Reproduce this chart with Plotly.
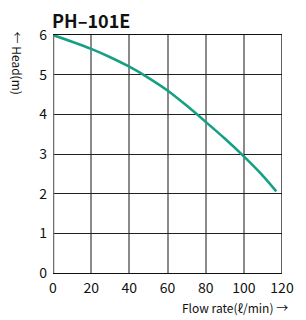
import plotly.graph_objects as go

flow = [0, 10, 20, 30, 40, 50, 60, 70, 80, 90, 100, 110, 117]
head = [6.0, 5.83, 5.65, 5.44, 5.2, 4.92, 4.6, 4.22, 3.81, 3.39, 2.94, 2.45, 2.06]
x_ticks = [0, 20, 40, 60, 80, 100, 120]
y_ticks = [0, 1, 2, 3, 4, 5, 6]

FONT = "Noto Sans CJK KR"

fig = go.Figure()
fig.add_trace(go.Scatter(x=flow, y=head, mode="lines",
                         line=dict(color="#16a083", width=2.6, shape="spline", smoothing=0.8),
                         hoverinfo="skip", showlegend=False))

# page body has an 8px margin, so the figure is sized to fit in 306x320
fig.update_layout(
    width=298, height=312,
    margin=dict(l=45, r=13, t=27, b=47),
    paper_bgcolor="white", plot_bgcolor="white",
    font=dict(family=FONT, color="#111111"),
    xaxis=dict(range=[0, 120], tickvals=x_ticks, showgrid=True,
               gridcolor="#8a8a8a", gridwidth=2, zeroline=False,
               showline=True, linecolor="#111111", linewidth=1.3, mirror=True,
               ticks="", ticklabelstandoff=2,
               tickfont=dict(size=14, family=FONT), fixedrange=True),
    yaxis=dict(range=[0, 6], tickvals=y_ticks, showgrid=True,
               gridcolor="#222222", gridwidth=1.3, zeroline=False,
               showline=False, ticks="", ticklabelstandoff=5,
               tickfont=dict(size=14, family=FONT), fixedrange=True),
    shapes=[
        dict(type="line", xref="x", yref="y", x0=0, x1=0, y0=0, y1=6,
             line=dict(color="#6e6e6e", width=2.5)),
        dict(type="line", xref="x", yref="y", x0=120, x1=120, y0=0, y1=6,
             line=dict(color="#111111", width=1.3)),
    ],
    annotations=[
        dict(text="<b>PH–101E</b>", xref="paper", yref="paper", x=0, y=1,
             xanchor="left", yanchor="bottom", xshift=-3, yshift=0, showarrow=False,
             font=dict(size=18, family=FONT, color="#111111")),
        dict(text="← Head(m)", xref="paper", yref="paper", x=0, y=1,
             xanchor="center", yanchor="top", xshift=-36, yshift=6,
             textangle=90, showarrow=False,
             font=dict(size=12, family=FONT, color="#111111")),
        dict(text="Flow rate(ℓ/min) →", xref="paper", yref="paper", x=1, y=0,
             xanchor="right", yanchor="top", xshift=8, yshift=-24, showarrow=False,
             font=dict(size=12, family=FONT, color="#111111")),
    ],
)

fig.write_html("out.html")
